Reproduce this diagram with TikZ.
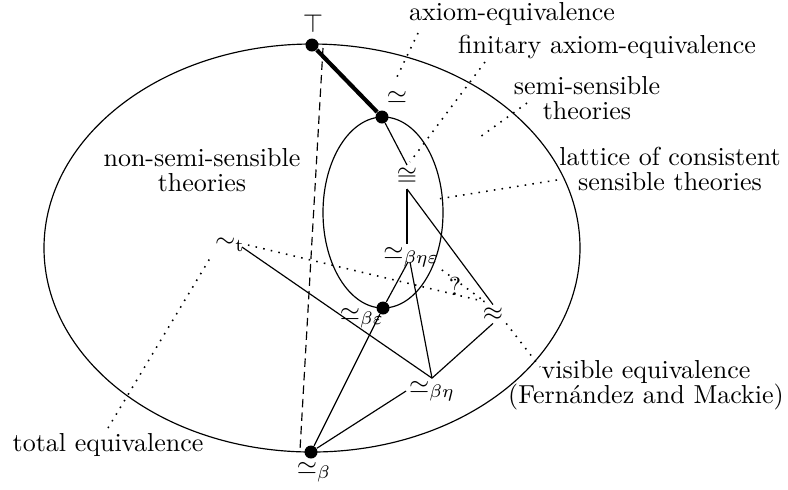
\documentclass[tikz,border=0pt]{standalone}
\usetikzlibrary{calc}
\begin{document}
\begin{tikzpicture}[x=0.3846pt,y=-0.3846pt,
  bigdot/.style={circle,fill=black,inner sep=0pt,minimum size=5pt},
  lab/.style={inner sep=1pt},
  txt/.style={align=center,font=\fontsize{10}{9.7}\selectfont,inner sep=0pt},
  pointer/.style={line width=0.6pt,dash pattern=on 0.6pt off 2.4pt},
  dashline/.style={line width=0.45pt,dash pattern=on 3.2pt off 2pt},
  conn/.style={line width=0.45pt}
]
\useasboundingbox (0,0) rectangle (788,489);
% ellipses
\draw[conn] (312,248) ellipse [x radius=268, y radius=204];
\draw[conn] (383,212.5) ellipse [x radius=60, y radius=95.5];
% dots
\node[bigdot] (T) at (312,45) {};
\node[bigdot] (A) at (382,117) {};
\node[bigdot] (BE) at (383,308) {};
\node[bigdot] (B) at (311,452) {};
% math labels
\node[lab] (Tl) at (313,23) {$\top$};
\node[lab] (Al) at (397,97) {$\simeq$};
\node[lab] (cong) at (407,177) {$\cong$};
\node[lab] (bhe) at (411,257) {$\simeq_{\beta\eta\varepsilon}$};
\node[lab] (bel) at (362,318) {$\simeq_{\beta\varepsilon}$};
\node[lab] (apx) at (493,314) {$\approx$};
\node[lab] (bh) at (432,391) {$\simeq_{\beta\eta}$};
\node[lab] (bl) at (314,472) {$\simeq_{\beta}$};
\node[lab] (st) at (230,245) {$\sim_{\mathrm{t}}$};
\node[lab] (q) at (455,286) {?};
% text labels
\node[txt] (ax) at (512,14) {axiom-equivalence};
\node[txt] (fin) at (607,47) {finitary axiom-equivalence};
\node[txt] (semi) at (587,98) {semi-sensible\\theories};
\node[txt] (lat) at (670,169) {lattice of consistent\\sensible theories};
\node[txt] (nonsemi) at (202,170) {non-semi-sensible\\theories};
\node[txt] (vis) at (646,385) {visible equivalence\\(Fern\'andez and Mackie)};
\node[txt] (tot) at (108,445) {total equivalence};
% connectors
\draw[line width=1.6pt] (T) -- (A);
\draw[dashline] ($(T)+(11,3)$) coordinate (dtop) -- ($(B)+(-11,-2)$) coordinate (dbot);
\draw[conn] (A) -- (cong.north);
\draw[conn] (cong.south) -- (cong.south |- bhe.north);
\draw[conn] (cong.south) -- (apx.north);
\draw[conn] (B) -- (BE) -- ($(bhe.center)+(-3,5)$) coordinate (bhein);
\draw[conn] ($(bhe.center)+(-1,5)$) coordinate (bheout) -- (bh.north);
\draw[conn] ($(st.east)+(-6,2)$) coordinate (stout) -- (bh.north);
\draw[conn] (bh.north) -- (apx.south);
\draw[conn] (B) -- (bh.west);
% dotted
\draw[pointer] (st.east) -- ($(apx.north west)+(5,-3)$) coordinate (apxin);
\draw[pointer] (bhe.south east) -- (apxin);
\coordinate (pax) at (418,33);
\coordinate (paxend) at (395,81);
\coordinate (pfin) at (485,62);
\coordinate (pfinend) at (410,162);
\coordinate (psemi) at (527,103);
\coordinate (psemiend) at (480,137);
\coordinate (plat) at (557,180);
\coordinate (platend) at (438,199);
\coordinate (pvis) at (540,367);
\coordinate (ptot) at (108,428);
\draw[pointer] (pax) -- (paxend);
\draw[pointer] (pfin) -- (pfinend);
\draw[pointer] (psemi) -- (psemiend);
\draw[pointer] (plat) -- (platend);
\draw[pointer] (apx.south east) -- (pvis);
\draw[pointer] (ptot) -- (st.south west);
\end{tikzpicture}
\end{document}
